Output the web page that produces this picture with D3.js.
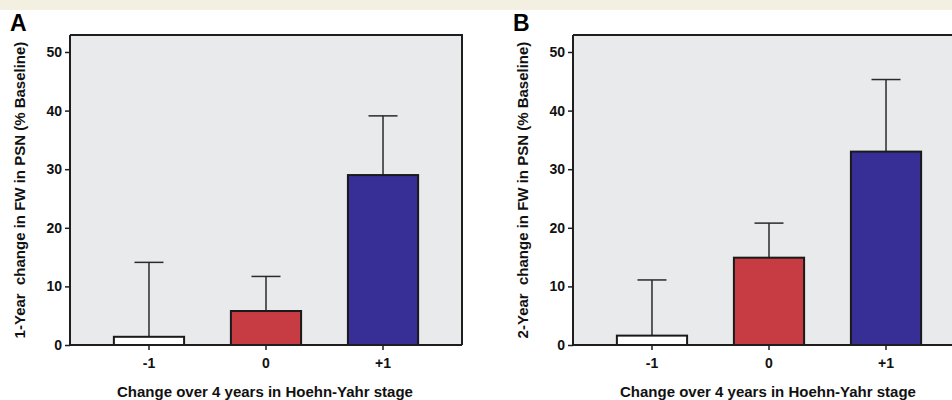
<!DOCTYPE html>
<html>
<head>
<meta charset="utf-8">
<script src="https://cdn.jsdelivr.net/npm/d3@7"></script>
<style>
  body { margin: 0; background: #fff; }
  svg { display: block; font-family: "Liberation Sans", Arial, sans-serif; }
</style>
</head>
<body>
<div id="chart"></div>
<script>
// data
var categories = ['-1', '0', '+1'];
var colors = ['#ffffff', '#c73b43', '#372f96'];
var yTicks = [0, 10, 20, 30, 40, 50];

var meansA = [1.4, 5.8, 29.0];
var errorsA = [14.1, 11.7, 39.1];
var meansB = [1.6, 14.9, 33.0];
var errorsB = [11.1, 20.8, 45.3];

var panels = [
  { letter: 'A', left: 70, means: meansA, errors: errorsA,
    ylabel: '1-Year  change in FW in PSN (% Baseline)' },
  { letter: 'B', left: 573, means: meansB, errors: errorsB,
    ylabel: '2-Year  change in FW in PSN (% Baseline)' }
];

var width = 952, height = 400;
var plotW = 392, plotTop = 35, plotBottom = 345;

var svg = d3.select('#chart').append('svg')
  .attr('width', width)
  .attr('height', height);

// beige strip at the top
svg.append('rect')
  .attr('x', 0).attr('y', 0)
  .attr('width', width).attr('height', 10)
  .attr('fill', '#f3efe1');

var y = d3.scaleLinear().domain([0, 52.9]).range([plotBottom, plotTop]);

panels.forEach(function(p){
  var g = svg.append('g');
  var x = d3.scaleBand()
    .domain(categories)
    .range([p.left, p.left + plotW])
    .paddingInner(0.4)
    .paddingOuter(0.375);

  // plot background
  g.append('rect')
    .attr('x', p.left).attr('y', plotTop)
    .attr('width', plotW).attr('height', plotBottom - plotTop)
    .attr('fill', '#e9eaec');

  // error bars (upper only)
  var capW = 29;
  categories.forEach(function(c, i){
    var cx = x(c) + x.bandwidth() / 2;
    g.append('line')
      .attr('x1', cx).attr('x2', cx)
      .attr('y1', y(p.means[i])).attr('y2', y(p.errors[i]))
      .attr('stroke', '#2a2a2a').attr('stroke-width', 1.5);
    g.append('line')
      .attr('x1', cx - capW / 2).attr('x2', cx + capW / 2)
      .attr('y1', y(p.errors[i])).attr('y2', y(p.errors[i]))
      .attr('stroke', '#2a2a2a').attr('stroke-width', 1.5);
  });

  // bars
  g.selectAll('.bar')
    .data(p.means)
    .enter()
    .append('rect')
    .attr('class', 'bar')
    .attr('x', function(d, i){ return x(categories[i]) })
    .attr('y', function(d){ return y(d) })
    .attr('width', x.bandwidth())
    .attr('height', function(d){ return plotBottom - y(d) })
    .attr('fill', function(d, i){ return colors[i] })
    .attr('stroke', '#1a1a1a')
    .attr('stroke-width', 2);

  // frame: top and right edges
  g.append('path')
    .attr('d', 'M' + p.left + ',' + plotTop + 'H' + (p.left + plotW) + 'V' + plotBottom)
    .attr('fill', 'none')
    .attr('stroke', '#1e1e1e')
    .attr('stroke-width', 2);

  // y axis
  var yAxis = g.append('g')
    .attr('transform', 'translate(' + p.left + ',0)')
    .call(d3.axisLeft(y).tickValues(yTicks).tickSize(5).tickPadding(3));
  yAxis.select('.domain').attr('stroke', '#1e1e1e').attr('stroke-width', 2)
    .attr('d', 'M0,' + plotBottom + 'V' + plotTop);
  yAxis.selectAll('.tick line').attr('stroke', '#1e1e1e').attr('stroke-width', 1.5);
  yAxis.selectAll('.tick text')
    .attr('fill', '#111')
    .style('font-size', '14px')
    .style('font-weight', 'bold');

  // x axis
  var xAxis = g.append('g')
    .attr('transform', 'translate(0,' + plotBottom + ')')
    .call(d3.axisBottom(x).tickSize(5).tickPadding(8));
  xAxis.select('.domain').attr('stroke', '#1e1e1e').attr('stroke-width', 2)
    .attr('d', 'M' + p.left + ',0H' + (p.left + plotW));
  xAxis.selectAll('.tick line').attr('stroke', '#1e1e1e').attr('stroke-width', 1.5);
  xAxis.selectAll('.tick text')
    .attr('fill', '#111')
    .style('font-size', '14px')
    .style('font-weight', 'bold');

  // x axis title
  g.append('text')
    .attr('x', p.left + plotW / 2 - 1)
    .attr('y', 397)
    .attr('text-anchor', 'middle')
    .attr('fill', '#111')
    .style('font-size', '15px')
    .style('font-weight', 'bold')
    .text('Change over 4 years in Hoehn-Yahr stage');

  // y axis title
  g.append('text')
    .attr('transform', 'translate(' + (p.left - 45) + ',' + 190 + ') rotate(-90)')
    .attr('text-anchor', 'middle')
    .attr('fill', '#111')
    .style('font-size', '15px')
    .style('font-weight', 'bold')
    .style('white-space', 'pre')
    .text(p.ylabel);

  // panel letter
  g.append('text')
    .attr('x', p.left - 60)
    .attr('y', 31)
    .attr('fill', '#000')
    .style('font-size', '23px')
    .style('font-weight', 'bold')
    .text(p.letter);
});
</script>
</body>
</html>
